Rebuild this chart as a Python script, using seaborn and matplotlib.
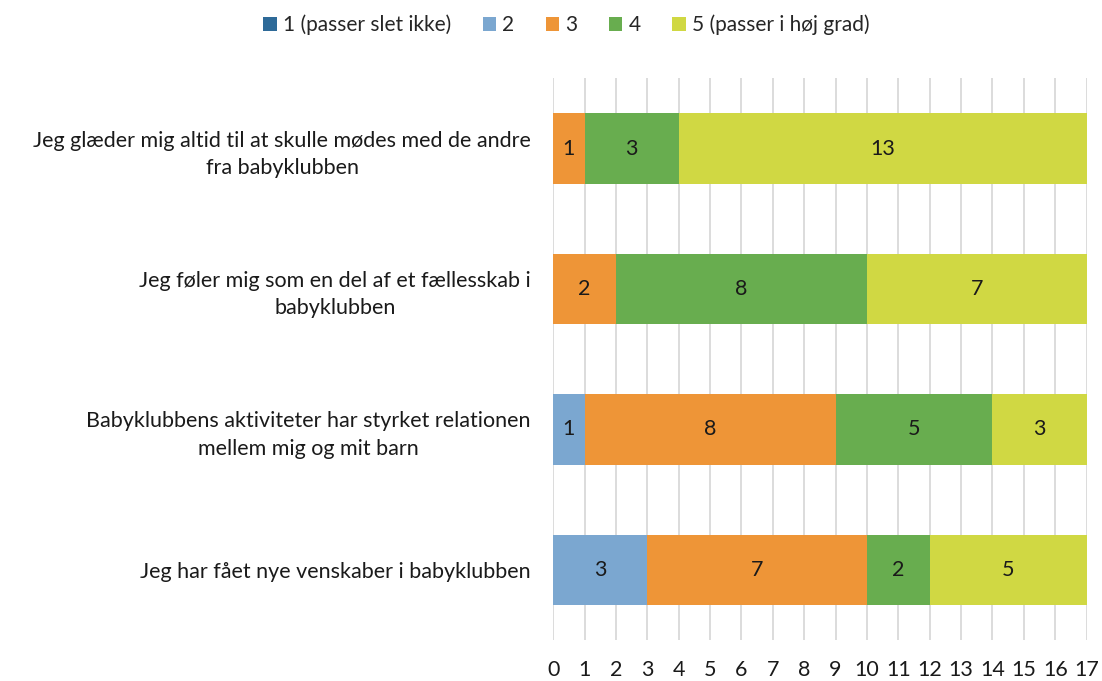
import numpy as np
import pandas as pd
import matplotlib
matplotlib.use("Agg")
import matplotlib.pyplot as plt
from matplotlib.patches import Patch
import seaborn as sns

# Data
statements = [
    "Jeg glæder mig altid til at skulle mødes med de andre\nfra babyklubben",
    "Jeg føler mig som en del af et fællesskab i\nbabyklubben",
    "Babyklubbens aktiviteter har styrket relationen\nmellem mig og mit barn",
    "Jeg har fået nye venskaber i babyklubben",
]
levels = ["1 (passer slet ikke)", "2", "3", "4", "5 (passer i høj grad)"]
level1 = [0, 0, 0, 0]
level2 = [0, 0, 1, 3]
level3 = [1, 2, 8, 7]
level4 = [3, 8, 5, 2]
level5 = [13, 7, 3, 5]
colors = ["#2E6A98", "#7BA7D0", "#EE9537", "#68AD4F", "#D0D843"]

sns.set_theme(style="white")
plt.rcParams["font.family"] = ["Lato", "DejaVu Sans"]

df = pd.DataFrame({"statement": statements,
                   "l1": level1, "l2": level2, "l3": level3, "l4": level4, "l5": level5})
cols = ["l1", "l2", "l3", "l4", "l5"]
cum = df[cols].cumsum(axis=1)

fs = 15.5
fig = plt.figure(figsize=(11.02, 6.81), dpi=100)
ax = fig.add_axes([0.502, 0.060, 0.484, 0.825])

# stacked bars: draw cumulative totals from the top level down
for i in reversed(range(len(cols))):
    sns.barplot(x=cum[cols[i]], y=df["statement"], order=statements,
                color=colors[i], width=0.5, linewidth=0, saturation=1,
                orient="h", ax=ax)

# segment labels
for i, c in enumerate(cols):
    for j in range(len(df)):
        v = df[c].iloc[j]
        if v > 0:
            ax.text(cum[c].iloc[j] - v / 2, j, str(v), ha="center", va="center",
                    fontsize=fs, color="#1a1a1a")

ax.set_xlim(0, 17)
ax.set_ylim(3.5, -0.5)
ax.set_xticks(range(0, 18))
ax.grid(axis="x", color="#D9D9D9", linewidth=1.3)
ax.set_axisbelow(True)
for s in ax.spines.values():
    s.set_visible(False)
ax.set_xlabel("")
ax.set_ylabel("")
ax.tick_params(axis="x", length=0, pad=14, labelsize=fs, labelcolor="#1a1a1a")
ax.tick_params(axis="y", length=0, pad=16, labelsize=fs, labelcolor="#1a1a1a")
for t in ax.get_yticklabels():
    t.set_multialignment("center")
    t.set_linespacing(1.45)

handles = [Patch(facecolor=colors[i], edgecolor="none") for i in range(len(levels))]
fig.legend(handles, levels, loc="center", bbox_to_anchor=(0.514, 0.963), ncol=5,
           frameon=False, fontsize=15, handlelength=0.65, handleheight=0.65,
           handletextpad=0.3, columnspacing=1.5)

fig.savefig("out.png", dpi=100)
